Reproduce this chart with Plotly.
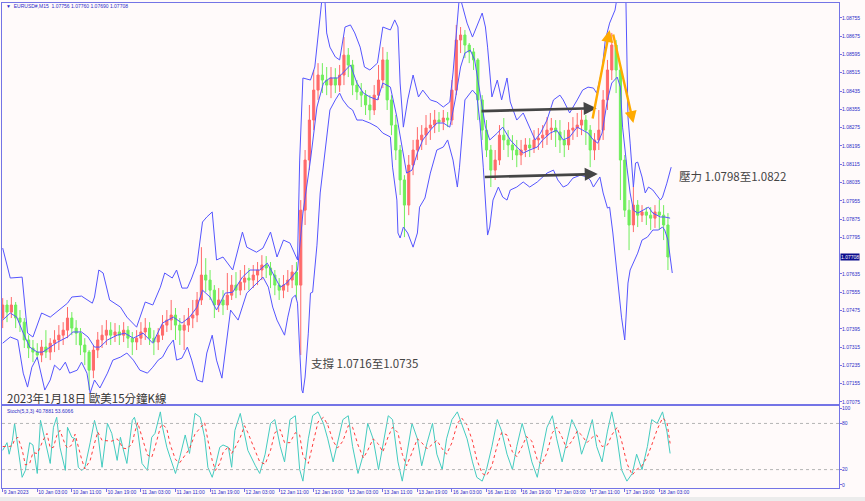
import plotly.graph_objects as go

# ---------------- data ----------------
x_tick_bars = [0, 32, 64, 96, 128, 160, 192, 224, 256, 288, 320, 352, 384, 416, 448, 480, 512, 544, 576, 608]
x_tick_labels = ["9 Jan 2023", "10 Jan 03:00", "10 Jan 11:00", "10 Jan 19:00", "11 Jan 03:00", "11 Jan 11:00",
                 "11 Jan 19:00", "12 Jan 03:00", "12 Jan 11:00", "12 Jan 19:00", "13 Jan 03:00", "13 Jan 11:00",
                 "13 Jan 19:00", "16 Jan 03:00", "16 Jan 11:00", "16 Jan 19:00", "17 Jan 03:00", "17 Jan 11:00",
                 "17 Jan 19:00", "18 Jan 03:00"]
price_ticks = [1.07075, 1.07155, 1.07235, 1.07315, 1.07395, 1.07475, 1.07555, 1.07635, 1.07795, 1.07875,
               1.07955, 1.08035, 1.08115, 1.08195, 1.08275, 1.08355, 1.08435, 1.08515, 1.08595, 1.08675, 1.08755]
stoch_ticks = [0, 20, 80, 100]
last_price = 1.07708

# hourly candles (bar index of M15 bars)
candle_bar = list(range(0, 620, 4))
open_ = [1.07442,1.07499,1.07468,1.07499,1.07442,1.07424,1.07346,1.07311,1.07293,1.07280,
         1.07315,1.07293,1.07332,1.07346,1.07367,1.07389,1.07442,1.07398,1.07376,1.07324,
         1.07293,1.07214,1.07302,1.07346,1.07367,1.07389,1.07367,1.07381,1.07367,1.07389,
         1.07354,1.07337,1.07354,1.07381,1.07398,1.07354,1.07337,1.07367,1.07411,1.07433,
         1.07455,1.07411,1.07389,1.07411,1.07442,1.07455,1.07521,1.07630,1.07608,1.07564,
         1.07499,1.07521,1.07499,1.07542,1.07586,1.07564,1.07599,1.07617,1.07608,1.07630,
         1.07652,1.07674,1.07661,1.07630,1.07586,1.07564,1.07586,1.07608,1.07643,1.07586,
         1.07914,1.08133,1.08308,1.08439,1.08505,1.08483,1.08461,1.08492,1.08461,1.08505,
         1.08592,1.08549,1.08461,1.08431,1.08417,1.08374,1.08352,1.08417,1.08483,1.08571,
         1.08396,1.08286,1.08177,1.08046,1.07936,1.08111,1.08177,1.08221,1.08242,1.08273,
         1.08286,1.08308,1.08299,1.08317,1.08308,1.08439,1.08658,1.08680,1.08636,1.08606,
         1.08571,1.08396,1.08264,1.08177,1.08089,1.08133,1.08242,1.08221,1.08199,1.08177,
         1.08155,1.08177,1.08199,1.08186,1.08221,1.08229,1.08242,1.08264,1.08273,1.08256,
         1.08221,1.08199,1.08264,1.08273,1.08286,1.08308,1.08264,1.08177,1.08221,1.08264,
         1.08396,1.08527,1.08636,1.08527,1.08133,1.07914,1.07849,1.07936,1.07892,1.07906,
         1.07892,1.07879,1.07906,1.07892,1.07849]
high_ = [1.07529,1.07521,1.07534,1.07512,1.07477,1.07442,1.07367,1.07346,1.07332,1.07346,
         1.07389,1.07354,1.07389,1.07411,1.07424,1.07490,1.07468,1.07433,1.07398,1.07354,
         1.07302,1.07324,1.07381,1.07411,1.07433,1.07424,1.07420,1.07411,1.07424,1.07407,
         1.07381,1.07389,1.07424,1.07442,1.07424,1.07389,1.07398,1.07455,1.07477,1.07521,
         1.07486,1.07442,1.07455,1.07486,1.07521,1.07556,1.07752,1.07704,1.07652,1.07586,
         1.07573,1.07564,1.07639,1.07630,1.07643,1.07652,1.07674,1.07661,1.07674,1.07687,
         1.07717,1.07713,1.07687,1.07652,1.07617,1.07630,1.07652,1.07674,1.07687,1.07958,
         1.08177,1.08374,1.08527,1.08557,1.08557,1.08540,1.08540,1.08535,1.08549,1.08671,
         1.08623,1.08571,1.08483,1.08470,1.08439,1.08417,1.08461,1.08549,1.08627,1.08606,
         1.08417,1.08330,1.08199,1.08067,1.08155,1.08221,1.08277,1.08286,1.08330,1.08339,
         1.08352,1.08343,1.08352,1.08343,1.08483,1.08724,1.08715,1.08702,1.08645,1.08623,
         1.08579,1.08417,1.08308,1.08199,1.08177,1.08286,1.08317,1.08264,1.08242,1.08221,
         1.08221,1.08229,1.08229,1.08264,1.08273,1.08286,1.08321,1.08317,1.08308,1.08308,
         1.08264,1.08299,1.08321,1.08339,1.08352,1.08330,1.08286,1.08251,1.08352,1.08439,
         1.08571,1.08689,1.08658,1.08549,1.08155,1.07958,1.08015,1.07958,1.07936,1.07927,
         1.07927,1.07936,1.07958,1.07936,1.07901]
low_ = [1.07398,1.07424,1.07442,1.07398,1.07381,1.07311,1.07267,1.07249,1.07258,1.07249,
        1.07267,1.07258,1.07293,1.07302,1.07324,1.07354,1.07367,1.07324,1.07280,1.07236,
        1.07127,1.07179,1.07267,1.07311,1.07324,1.07324,1.07337,1.07324,1.07337,1.07311,
        1.07280,1.07302,1.07324,1.07346,1.07324,1.07280,1.07302,1.07346,1.07381,1.07389,
        1.07346,1.07324,1.07302,1.07381,1.07398,1.07424,1.07499,1.07556,1.07521,1.07442,
        1.07468,1.07455,1.07477,1.07521,1.07529,1.07542,1.07564,1.07564,1.07573,1.07586,
        1.07608,1.07617,1.07573,1.07542,1.07521,1.07529,1.07556,1.07573,1.07521,1.07280,
        1.07849,1.08089,1.08264,1.08396,1.08426,1.08417,1.08404,1.08426,1.08431,1.08461,
        1.08496,1.08417,1.08396,1.08365,1.08330,1.08308,1.08330,1.08396,1.08448,1.08352,
        1.08242,1.08133,1.07980,1.07796,1.07892,1.08067,1.08133,1.08177,1.08199,1.08221,
        1.08251,1.08256,1.08264,1.08277,1.08286,1.08417,1.08601,1.08579,1.08557,1.08527,
        1.08308,1.08221,1.08146,1.08015,1.08046,1.08111,1.08177,1.08146,1.08133,1.08102,
        1.08111,1.08146,1.08146,1.08164,1.08177,1.08186,1.08199,1.08221,1.08190,1.08164,
        1.08146,1.08177,1.08221,1.08234,1.08242,1.08199,1.08102,1.08133,1.08177,1.08221,
        1.08352,1.08483,1.08426,1.07958,1.07884,1.07739,1.07818,1.07840,1.07862,1.07849,
        1.07827,1.07836,1.07827,1.07783,1.07652]
close_ = [1.07499,1.07468,1.07499,1.07442,1.07424,1.07346,1.07311,1.07293,1.07280,1.07315,
          1.07293,1.07332,1.07346,1.07367,1.07389,1.07442,1.07398,1.07376,1.07324,1.07293,
          1.07214,1.07302,1.07346,1.07367,1.07389,1.07367,1.07381,1.07367,1.07389,1.07354,
          1.07337,1.07354,1.07381,1.07398,1.07354,1.07337,1.07367,1.07411,1.07433,1.07455,
          1.07411,1.07389,1.07411,1.07442,1.07455,1.07521,1.07630,1.07608,1.07564,1.07499,
          1.07521,1.07499,1.07542,1.07586,1.07564,1.07599,1.07617,1.07608,1.07630,1.07652,
          1.07674,1.07661,1.07630,1.07586,1.07564,1.07586,1.07608,1.07643,1.07586,1.07914,
          1.08133,1.08308,1.08439,1.08505,1.08483,1.08461,1.08492,1.08461,1.08505,1.08592,
          1.08549,1.08461,1.08431,1.08417,1.08374,1.08352,1.08417,1.08483,1.08571,1.08396,
          1.08286,1.08177,1.08046,1.07936,1.08111,1.08177,1.08221,1.08242,1.08273,1.08286,
          1.08308,1.08299,1.08317,1.08308,1.08439,1.08658,1.08680,1.08636,1.08606,1.08571,
          1.08396,1.08264,1.08177,1.08089,1.08133,1.08242,1.08221,1.08199,1.08177,1.08155,
          1.08177,1.08199,1.08186,1.08221,1.08229,1.08242,1.08264,1.08273,1.08256,1.08221,
          1.08199,1.08264,1.08273,1.08286,1.08308,1.08264,1.08177,1.08221,1.08264,1.08396,
          1.08527,1.08636,1.08527,1.08133,1.07914,1.07849,1.07936,1.07892,1.07906,1.07892,
          1.07879,1.07906,1.07892,1.07849,1.07709]

# Bollinger bands
upper_bar = [0,7,18,23,28,36,44,55,60,64,73,83,85,89,93,99,109,115,124,132,139,146,150,157,161,166,171,175,180,185,
             189,194,198,204,213,222,226,235,241,248,254,260,266,273,275,278,285,289,292,296,298,300,303,308,312,317,
             322,326,331,335,340,347,352,359,363,366,368,371,375,380,385,389,396,402,408,414,417,421,423,426,430,435,
             439,444,447,449,453,458,462,467,470,476,482,488,493,498,504,510,516,519,525,532,537,542,547,550,555,558,
             562,567,570,573,577,578,579,581,583,584,586,588,592,595,598,602,609,611,615,619]
upper_band = [1.07748,1.07617,1.07621,1.07376,1.07359,1.07464,1.07446,1.07490,1.07507,1.07534,
              1.07538,1.07507,1.07534,1.07652,1.07639,1.07521,1.07490,1.07446,1.07402,1.07512,
              1.07499,1.07577,1.07639,1.07617,1.07652,1.07573,1.07573,1.07617,1.07682,1.07862,
              1.07884,1.07906,1.07696,1.07709,1.07652,1.07818,1.07752,1.07730,1.07748,1.07818,
              1.07709,1.07783,1.07770,1.07696,1.08133,1.08492,1.08483,1.08540,1.08689,1.08855,
              1.08868,1.08689,1.08627,1.08584,1.08571,1.08715,1.08724,1.08689,1.08627,1.08540,
              1.08527,1.08557,1.08715,1.08702,1.08746,1.08715,1.08470,1.08277,1.08396,1.08505,
              1.08409,1.08439,1.08396,1.08387,1.08365,1.08387,1.08514,1.08746,1.08855,1.08802,
              1.08732,1.08671,1.08715,1.08776,1.08715,1.08627,1.08409,1.08483,1.08396,1.08492,
              1.08387,1.08308,1.08339,1.08277,1.08221,1.08251,1.08308,1.08396,1.08417,1.08396,
              1.08339,1.08396,1.08439,1.08452,1.08448,1.08426,1.08527,1.08658,1.08732,1.08789,
              1.08899,1.08964,1.08855,1.08614,1.08321,1.08207,1.08102,1.08015,1.08120,1.08124,
              1.08059,1.07989,1.08015,1.08002,1.07958,1.07971,1.08032,1.08102]
mid_bar = [0,7,13,19,25,32,37,44,51,60,65,73,79,85,90,97,106,113,121,130,139,148,158,166,173,180,185,192,198,206,
           213,222,229,238,245,250,257,263,269,273,278,285,291,297,303,310,315,322,328,334,340,347,352,359,365,370,
           374,379,384,389,396,402,408,414,419,424,428,433,437,442,447,451,458,463,470,476,482,488,495,500,507,513,
           519,525,532,537,542,547,551,555,560,564,569,572,574,578,581,584,588,593,598,602,609,613,618]
mid_band = [1.07433,1.07464,1.07446,1.07376,1.07315,1.07293,1.07293,1.07315,1.07337,1.07359,
            1.07381,1.07381,1.07359,1.07315,1.07315,1.07346,1.07367,1.07376,1.07354,1.07376,
            1.07332,1.07420,1.07446,1.07420,1.07446,1.07490,1.07564,1.07534,1.07477,1.07551,
            1.07555,1.07621,1.07652,1.07652,1.07682,1.07639,1.07577,1.07595,1.07630,1.07652,
            1.07901,1.08133,1.08365,1.08470,1.08492,1.08492,1.08514,1.08549,1.08470,1.08426,
            1.08409,1.08396,1.08470,1.08452,1.08321,1.08190,1.08076,1.08089,1.08164,1.08221,
            1.08264,1.08295,1.08295,1.08277,1.08396,1.08540,1.08601,1.08614,1.08571,1.08426,
            1.08277,1.08221,1.08251,1.08277,1.08221,1.08190,1.08164,1.08177,1.08190,1.08221,
            1.08251,1.08264,1.08221,1.08234,1.08277,1.08264,1.08251,1.08221,1.08207,1.08251,
            1.08396,1.08470,1.08496,1.08452,1.08277,1.08102,1.07989,1.07914,1.07901,1.07914,
            1.07927,1.07901,1.07884,1.07884,1.07879]
lower_bar = [0,7,14,19,23,27,32,36,39,44,48,53,58,62,69,73,78,81,85,90,97,102,109,115,121,127,134,139,144,148,
             153,158,161,166,171,175,180,185,189,194,198,203,208,211,213,218,226,235,241,246,250,254,259,261,264,
             268,271,273,275,277,278,280,283,285,287,291,294,300,303,308,312,315,320,324,328,333,340,347,352,359,
             361,365,366,368,371,375,380,384,386,391,396,402,408,412,417,421,423,428,435,439,442,445,448,449,451,
             454,459,463,467,470,476,482,488,495,504,510,514,519,523,528,535,541,544,547,553,556,560,562,565,570,
             573,576,579,581,584,588,592,597,602,607,611,613,616,620]
lower_band = [1.07332,1.07359,1.07346,1.07201,1.07140,1.07227,1.07271,1.07184,1.07127,1.07171,
              1.07236,1.07214,1.07249,1.07201,1.07214,1.07249,1.07201,1.07114,1.07171,1.07136,
              1.07201,1.07258,1.07271,1.07289,1.07258,1.07214,1.07201,1.07227,1.07258,1.07271,
              1.07315,1.07346,1.07258,1.07267,1.07315,1.07258,1.07171,1.07162,1.07289,1.07367,
              1.07258,1.07179,1.07376,1.07477,1.07464,1.07433,1.07551,1.07595,1.07621,1.07577,
              1.07490,1.07433,1.07381,1.07367,1.07446,1.07529,1.07542,1.07507,1.07302,1.07127,
              1.07114,1.07184,1.07376,1.07551,1.07555,1.07761,1.07989,1.08251,1.08352,1.08396,
              1.08426,1.08396,1.08365,1.08352,1.08308,1.08308,1.08295,1.08277,1.08251,1.08234,
              1.08102,1.07958,1.07814,1.07792,1.07840,1.07814,1.07752,1.07814,1.07927,1.07967,
              1.08076,1.08177,1.08190,1.08221,1.08133,1.08015,1.08102,1.08396,1.08439,1.08417,
              1.08295,1.08102,1.07884,1.07805,1.07840,1.07958,1.08015,1.07971,1.07958,1.08002,
              1.08015,1.08037,1.08015,1.08037,1.08076,1.08089,1.08046,1.08015,1.08024,1.08054,
              1.08067,1.08059,1.08046,1.08015,1.08059,1.07989,1.07923,1.07927,1.07814,1.07595,
              1.07446,1.07346,1.07595,1.07652,1.07682,1.07726,1.07783,1.07796,1.07827,1.07827,
              1.07840,1.07827,1.07783,1.07639]

# Stochastic (5,3,3)
stoch_bar = [0,4,6,9,11,14,18,21,25,28,32,35,37,41,44,47,50,53,58,60,64,67,70,73,76,81,85,88,92,97,
             101,106,109,111,115,120,122,125,129,134,138,141,146,148,152,155,160,164,169,173,178,183,187,190,194,197,
             201,204,209,212,215,220,224,227,
             234,238,243,248,252,257,261,266,271,275,278,283,287,292,297,301,306,310,315,320,324,329,334,338,343,348,
             352,357,361,366,370,374,379,384,388,393,398,402,407,411,416,421,425,430,435,439,444,448,453,458,462,467,
             472,476,481,485,490,495,499,504,509,513,518,522,527,532,536,541,546,550,555,560,564,569,573,578,583,587,
             592,597,601,606,611,615,618]
stoch_main = [45,55,40,58,80,49,10,19,55,52,15,84,71,45,28,75,88,49,19,75,62,60,23,19,22,55,84,67,23,80,
              67,32,62,50,28,84,88,71,28,19,62,67,95,75,49,36,15,36,65,41,93,88,62,23,10,25,49,52,49,23,
              71,93,67,45,
              25,15,40,80,85,50,30,85,90,20,5,60,90,95,80,60,30,55,85,90,50,15,40,80,60,20,50,90,85,30,
              5,40,80,60,25,55,80,40,20,60,85,95,80,60,30,10,5,20,50,85,70,40,20,50,80,60,30,10,40,75,
              90,60,30,55,85,70,40,60,85,50,30,70,95,60,20,5,15,40,20,50,85,80,95,70,41]
stoch_signal = [50,50,50,51,59,62,46,26,28,42,41,50,57,67,48,49,64,71,52,48,52,66,48,34,21,32,54,69,58,57,
                57,60,54,48,47,54,67,81,62,39,36,49,75,79,73,53,33,29,39,47,66,74,81,58,32,19,28,42,50,41,
                48,62,77,68,
                45,30,27,45,68,72,55,55,68,65,38,28,52,82,88,78,57,48,57,77,75,52,35,45,60,53,43,63,75,68,
                40,25,42,60,55,47,53,58,47,40,55,80,87,78,57,33,15,12,25,52,68,65,43,37,50,63,57,33,27,42,
                68,75,62,48,57,70,65,55,62,65,50,52,65,75,58,28,13,20,25,37,52,72,87,82,54]

# hand-drawn annotations (bar index, price)
range_top_arrow = [(442, 1.08347), (550, 1.08360)]
range_bottom_arrow = [(445, 1.08059), (551, 1.08072)]
rise_arrow = [(546, 1.08308), (562, 1.08702)]
fall_arrow = [(565, 1.08689), (584, 1.08295)]

# ---------------- style ----------------
BG = "#fffafa"
FRAME = "#7474e6"
AXTXT = "#2b2bc8"
BAND = "#5555ff"
RED = "#ff6a6a"
GREEN = "#70ee5c"
CJK = "Noto Sans CJK TC"
SMALL = dict(family="Liberation Sans, DejaVu Sans", size=5, color=AXTXT)

fig = go.Figure()
fig.add_trace(go.Candlestick(
    x=candle_bar, open=open_, high=high_, low=low_, close=close_,
    xaxis="x2", yaxis="y", whiskerwidth=0,
    increasing=dict(line=dict(color=RED, width=1), fillcolor=RED),
    decreasing=dict(line=dict(color=GREEN, width=1), fillcolor=GREEN),
    showlegend=False, hoverinfo="skip"))
for bx, by in ((upper_bar, upper_band), (mid_bar, mid_band), (lower_bar, lower_band)):
    fig.add_trace(go.Scatter(x=bx, y=by, mode="lines", xaxis="x2", yaxis="y",
                             line=dict(color=BAND, width=1), showlegend=False, hoverinfo="skip"))
fig.add_trace(go.Scatter(x=stoch_bar, y=stoch_main, mode="lines", xaxis="x", yaxis="y2",
                         line=dict(color="#44ccc0", width=1), showlegend=False, hoverinfo="skip"))
fig.add_trace(go.Scatter(x=stoch_bar, y=stoch_signal, mode="lines", xaxis="x", yaxis="y2",
                         line=dict(color="#ff3b3b", width=1, dash="dot"), showlegend=False, hoverinfo="skip"))

annotations = []
for (tail, head), col, w in ((range_top_arrow, "#454545", 2.6), (range_bottom_arrow, "#454545", 2.6),
                             (rise_arrow, "#ffaa00", 2.4), (fall_arrow, "#ffaa00", 2.4)):
    annotations.append(dict(x=head[0], y=head[1], ax=tail[0], ay=tail[1], xref="x2", yref="y",
                            axref="x2", ayref="y", text="", showarrow=True, arrowhead=2,
                            arrowsize=1, arrowwidth=w, arrowcolor=col))
annotations += [
    dict(x=624, y=1.08063, xref="x2", yref="y", text="壓力 1.0798至1.0822", showarrow=False,
         xanchor="left", yanchor="middle", font=dict(family=CJK, size=11.5, color="#444444")),
    dict(x=284, y=1.07245, xref="x2", yref="y", text="支撐 1.0716至1.0735", showarrow=False,
         xanchor="left", yanchor="middle", font=dict(family=CJK, size=11.5, color="#444444")),
    dict(x=2, y=1.07092, xref="x2", yref="y", text="2023年1月18日 歐美15分鐘K線", showarrow=False,
         xanchor="left", yanchor="middle", font=dict(family=CJK, size=11.5, color="#333333")),
    dict(x=0.0024, y=0.9938, xref="paper", yref="paper", showarrow=False, xanchor="left", yanchor="middle",
         text="▼  EURUSD#,M15  1.07756 1.07760 1.07690 1.07708", font=SMALL),
    dict(x=0.0036, y=0.1588, xref="paper", yref="paper", showarrow=False, xanchor="left", yanchor="middle",
         text="Stoch(5,3,3) 40.7881 53.6066", font=SMALL),
    dict(x=1, y=last_price, xref="paper", yref="y", showarrow=False, xanchor="left", yanchor="middle",
         xshift=1, text=f"{last_price:.5f}", bgcolor="#0c0c8c", borderpad=0,
         font=dict(family="Liberation Sans, DejaVu Sans", size=5, color="white")),
]

shapes = [
    dict(type="line", xref="paper", x0=0, x1=1, yref="y2", y0=lv, y1=lv,
         line=dict(color="#b4b4b4", width=1, dash="dot"))
    for lv in (20, 80)
]
shapes.append(dict(type="rect", xref="paper", yref="paper", x0=-0.01, x1=1.05, y0=-0.04, y1=-0.0186,
                   fillcolor="#ececec", line=dict(width=0), layer="below"))

common_x = dict(range=[-0.65, 774.4], showgrid=False, zeroline=False, showline=True, mirror=True,
                linecolor=FRAME, linewidth=1)
common_y = dict(side="right", showgrid=False, zeroline=False, showline=True, mirror=True,
                linecolor=FRAME, linewidth=1, ticks="outside", ticklen=2, tickcolor=FRAME,
                tickfont=SMALL, ticklabelstandoff=-1, automargin=False)

fig.update_layout(
    width=865, height=501,
    margin=dict(l=2, r=26, t=3, b=13),
    paper_bgcolor=BG, plot_bgcolor=BG,
    showlegend=False,
    xaxis=dict(**common_x, domain=[0, 1], anchor="y2", tickvals=x_tick_bars, ticktext=x_tick_labels,
               ticks="outside", ticklen=3, tickcolor=FRAME, tickfont=SMALL, tickangle=0,
               ticklabelposition="outside right", ticklabelstandoff=-1, automargin=False,
               rangeslider=dict(visible=False)),
    xaxis2=dict(**common_x, domain=[0, 1], anchor="y", matches="x", showticklabels=False, ticks="",
                rangeslider=dict(visible=False)),
    yaxis=dict(**common_y, domain=[0.1732, 1], anchor="x2", range=[1.07066, 1.08820],
               tickvals=price_ticks, ticktext=[f"{v:.5f}" for v in price_ticks]),
    yaxis2=dict(**common_y, domain=[0, 0.169], anchor="x", range=[-3.9, 102.6],
                tickvals=stoch_ticks, ticktext=[str(v) for v in stoch_ticks]),
    annotations=annotations,
    shapes=shapes,
)

fig.write_html("out.html", config={"displayModeBar": False, "staticPlot": True},
               post_script="document.body.style.margin='0';document.body.style.overflow='hidden';")
